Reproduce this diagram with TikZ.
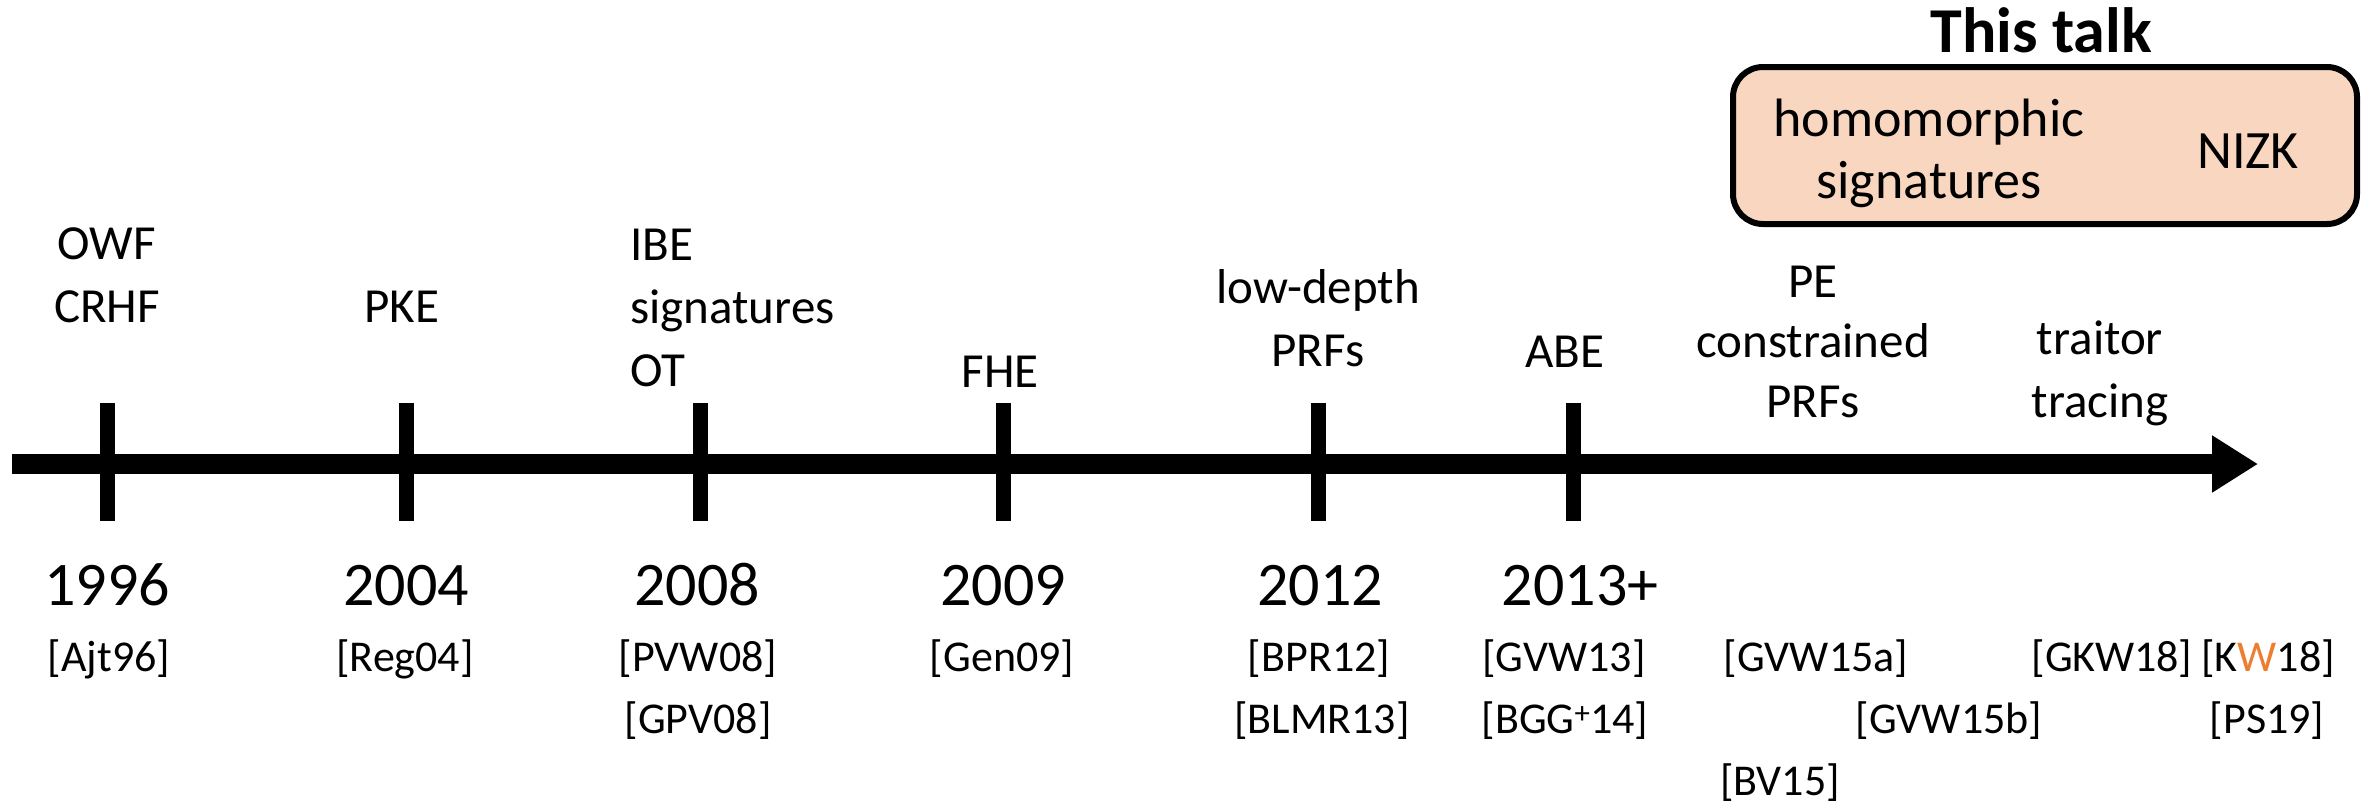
\documentclass[tikz,border=0pt]{standalone}
\usepackage{fontspec}
\setmainfont{Carlito}
\usetikzlibrary{arrows.meta}
\definecolor{peach}{HTML}{F8D6C0}
\definecolor{accent}{HTML}{ED7D31}
\begin{document}
\begin{tikzpicture}[x=1pt,y=-1pt,
  topic/.style={inner sep=0pt,align=center,anchor=base,font=\fontsize{49}{63}\selectfont},
  year/.style={inner sep=0pt,anchor=base,font=\fontsize{62}{74}\selectfont},
  cite/.style={inner sep=0pt,anchor=base,font=\fontsize{44}{52}\selectfont},
  tickmark/.style={line width=15pt},
  axisline/.style={line width=20pt,-{Triangle[length=46pt,width=54pt]}},
  talkbox/.style={draw=black,line width=6pt,fill=peach,rounded corners=30pt}]
\useasboundingbox (0,0) rectangle (2369,807);

% time axis
\coordinate (start) at (12,464);
\coordinate (end) at (2258,464);
\draw[axisline] (start) -- (end);

% year ticks
\foreach \n/\x in {t1/107,t2/406,t3/700,t4/1003,t5/1318,t6/1573}{
  \coordinate (\n) at (\x,464);
  \draw[tickmark] ([yshift=61pt]\n) -- ([yshift=-57pt]\n);
}

% topics above the axis (anchored at the baseline of the last line)
\node[topic] (owf) at (107,322) {OWF\\CRHF};
\node[topic] (pke) at (402,322) {PKE};
\node[topic,align=left,anchor=base west] (ibe) at (630,386) {IBE\\signatures\\OT};
\node[topic] (fhe) at (1000,387) {FHE};
\node[topic] (prf) at (1318,366) {low-depth\\PRFs};
\node[topic] (abe) at (1565,367) {ABE};
\node[topic,font=\fontsize{49}{60}\selectfont] (pe) at (1813,417) {PE\\constrained\\PRFs};
\node[topic] (tt) at (2100,417) {traitor\\tracing};

% years
\node[year] (y1996) at (107,605) {1996};
\node[year] (y2004) at (406,605) {2004};
\node[year] (y2008) at (697,605) {2008};
\node[year] (y2009) at (1003,605) {2009};
\node[year] (y2012) at (1320,605) {2012};
\node[year] (y2013) at (1580,605) {2013+};

% references
\node[cite] (ajt) at (109,671) {[Ajt96]};
\node[cite] (reg) at (405,671) {[Reg04]};
\node[cite] (pvw) at (698,671) {[PVW08]};
\node[cite] (gpv) at (698,733) {[GPV08]};
\node[cite] (gen) at (1002,671) {[Gen09]};
\node[cite] (bpr) at (1319,671) {[BPR12]};
\node[cite] (blmr) at (1322,733) {[BLMR13]};
\node[cite] (gvw13) at (1564,671) {[GVW13]};
\node[cite] (bgg) at (1565,733) {[BGG\textsuperscript{+}14]};
\node[cite] (gvwa) at (1816,671) {[GVW15a]};
\node[cite] (gvwb) at (1949,733) {[GVW15b]};
\node[cite] (bv) at (1780,795) {[BV15]};
\node[cite] (gkw) at (2112,671) {[GKW18]};
\node[cite] (kw) at (2268,671) {[K\textcolor{accent}{W}18]};
\node[cite] (ps) at (2267,733) {[PS19]};

% highlighted box
\draw[talkbox] (1733,67) rectangle (2357,224);
\node[inner sep=0pt,anchor=base,font=\fontsize{64}{72}\selectfont\bfseries] (talk) at (2041,52) {This talk};
\node[inner sep=0pt,anchor=base,align=center,font=\fontsize{54}{62}\selectfont] (homsig) at (1929,198) {homomorphic\\signatures};
\node[inner sep=0pt,anchor=base,font=\fontsize{54}{62}\selectfont] (nizk) at (2248,168) {NIZK};
\end{tikzpicture}
\end{document}
